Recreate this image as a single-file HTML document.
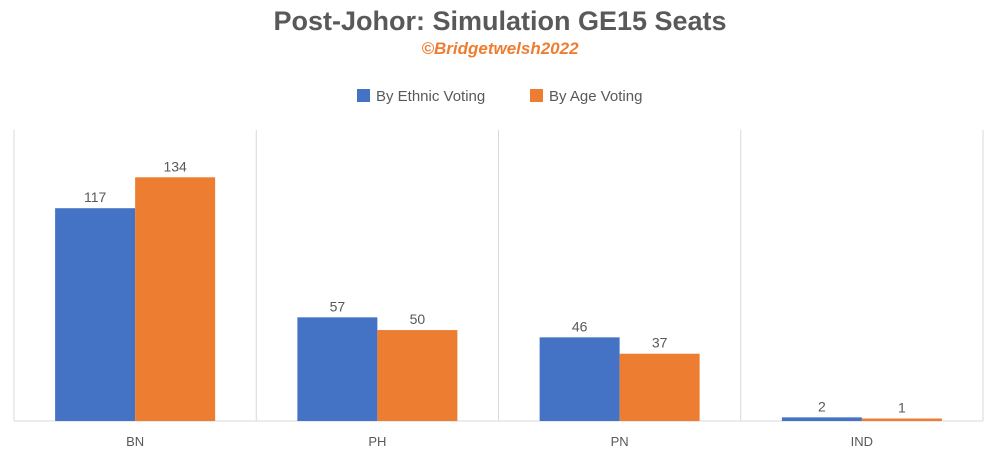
<!DOCTYPE html>
<html><head><meta charset="utf-8"><style>
body{margin:0;background:#fff;width:1000px;height:471px;overflow:hidden;font-family:"Liberation Sans",sans-serif}
</style></head><body>
<svg width="1000" height="471">
<text x="500" y="30" text-anchor="middle" font-size="27" font-weight="bold" fill="#595959">Post-Johor: Simulation GE15 Seats</text>
<text x="500" y="54" text-anchor="middle" font-size="17" font-weight="bold" font-style="italic" fill="#ed7d31">©Bridgetwelsh2022</text>
<g>
<rect x="357" y="89" width="13" height="13" fill="#4472c4"/>
<text x="376" y="101" font-size="15" fill="#595959">By Ethnic Voting</text>
<rect x="530" y="89" width="13" height="13" fill="#ed7d31"/>
<text x="549" y="101" font-size="15" fill="#595959">By Age Voting</text>
</g>
<g id="plot"></g>
</svg>
<script>
const categories=["BN","PH","PN","IND"];
const ethnicValues=[117,57,46,2];
const ageValues=[134,50,37,1];
const plotLeft=14,plotRight=983,plotBase=421,plotTop=130,maxV=160;
const cw=(plotRight-plotLeft)/categories.length;
const yScale=v=>plotBase-(v/maxV)*(plotBase-plotTop);
const xc=i=>plotLeft+cw*i;
const g=document.getElementById('plot');
const ns="http://www.w3.org/2000/svg";
function mk(t,a){const e=document.createElementNS(ns,t);for(const k in a)e.setAttribute(k,a[k]);g.appendChild(e);return e;}
for(let i=0;i<=categories.length;i++){
 const l=mk('line',{x1:xc(i),x2:xc(i),y1:plotTop,y2:plotBase,stroke:'#d9d9d9','stroke-width':1});
 
 
}
const ax=mk('line',{x1:plotLeft,x2:plotRight,y1:plotBase,y2:plotBase,stroke:'#d9d9d9','stroke-width':1});


const bw=80;
categories.forEach((c,i)=>{
 const x0=xc(i)+(cw-2*bw)/2;
 [[ethnicValues,'#4472c4','ethnic'],[ageValues,'#ed7d31','age']].forEach(([vals,col,nm],j)=>{
  const v=vals[i],bx=x0+j*bw,by=yScale(v);
  const r=mk('rect',{x:bx,y:Math.min(by,plotBase-2.5),width:bw,height:Math.max(plotBase-by,2.5),fill:col});
  
  
  const t=mk('text',{x:bx+bw/2,y:Math.min(by,plotBase-2.5)-6,'text-anchor':'middle','font-size':14,fill:'#595959'});
  t.textContent=v;
  
  
 });
 const t=mk('text',{x:xc(i)+cw/2,y:446,'text-anchor':'middle','font-size':13,fill:'#595959'});
 t.textContent=c;
 
 
});
</script>
</body></html>
